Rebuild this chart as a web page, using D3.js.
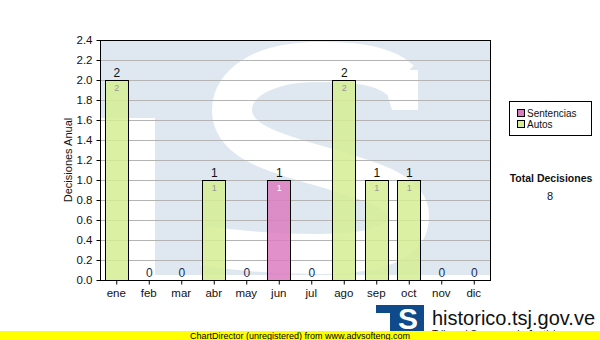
<!DOCTYPE html>
<html>
<head>
<meta charset="utf-8">
<script src="https://cdn.jsdelivr.net/npm/d3@7"></script>
<style>
    body { margin: 0; background: #fff; }
    svg text { font-family: "Liberation Sans", Arial, sans-serif; }
</style>
</head>
<body>
<svg id="chart" width="600" height="340"></svg>
<script>
// chart data
const months = ["ene", "feb", "mar", "abr", "may", "jun", "jul", "ago", "sep", "oct", "nov", "dic"];
const sentencias = [0, 0, 0, 0, 0, 1, 0, 0, 0, 0, 0, 0];
const autos = [2, 0, 0, 1, 0, 0, 0, 2, 1, 1, 0, 0];
const seriesNames = ["Sentencias", "Autos"];
const yTicks = [0, 0.2, 0.4, 0.6, 0.8, 1.0, 1.2, 1.4, 1.6, 1.8, 2.0, 2.2, 2.4];
const totalDecisiones = 8;

const colors = {Sentencias: "#dc7cc0", Autos: "#d6ed93"};

var svg = d3.select("#chart");
var plot = {left: 100, right: 490, top: 40, bottom: 280};

var x = d3.scaleBand()
    .domain(months)
    .range([plot.left, plot.right])
    .paddingInner(0.3)
    .paddingOuter(0.15);

var y = d3.scaleLinear()
    .domain([0, 2.4])
    .range([plot.bottom, plot.top]);

// background watermark (tsj logo)
svg.append("clipPath").attr("id", "plotclip")
    .append("rect")
        .attr("x", plot.left).attr("y", plot.top)
        .attr("width", plot.right - plot.left).attr("height", plot.bottom - plot.top);

var wm = svg.append("g").attr("clip-path", "url(#plotclip)");
wm.append("rect")
    .attr("x", plot.left).attr("y", plot.top)
    .attr("width", plot.right - plot.left).attr("height", 235)
    .attr("fill", "#dfe8f1");
wm.append("rect")
    .attr("x", plot.left).attr("y", 118)
    .attr("width", 55).attr("height", 170)
    .attr("fill", "#fff");
// the big white "S"
wm.append("path")
    .attr("d", "M400,80 C385,66 360,62 318,62 C262,62 232,84 232,110 C232,140 270,152 320,166 C372,181 409,192 409,216 C409,244 372,254 320,254 C270,254 232,250 204,246")
    .attr("fill", "none")
    .attr("stroke", "#fff")
    .attr("stroke-width", 40);
wm.append("path")
    .attr("d", "M380,70 L418,70 L418,110 L392,110 Z")
    .attr("fill", "#fff");

// grid lines
svg.append("g")
    .selectAll("line")
    .data(yTicks.slice(1))
    .enter()
    .append("line")
        .attr("x1", plot.left).attr("x2", plot.right)
        .attr("y1", d => y(d) + 0.5).attr("y2", d => y(d) + 0.5)
        .attr("stroke", "#b4b4b4")
        .attr("stroke-width", 1);

// stacked bars
var rows = months.map((m, i) => ({month: m, Sentencias: sentencias[i], Autos: autos[i]}));
var stacked = d3.stack().keys(seriesNames)(rows);

stacked.forEach(function(layer) {
    var name = layer.key;
    var g = svg.append("g");
    g.selectAll("rect")
        .data(layer.filter(d => d[1] - d[0] > 0))
        .enter()
        .append("rect")
            .attr("x", d => Math.round(x(d.data.month)) + 0.5)
            .attr("y", d => y(d[1]) + 0.5)
            .attr("width", Math.round(x.bandwidth()))
            .attr("height", d => y(d[0]) - y(d[1]))
            .attr("fill", colors[name])
            .attr("fill-opacity", 0.85)
            .attr("stroke", "#000")
            .attr("stroke-width", 1);
    // value inside bar
    g.selectAll("text")
        .data(layer.filter(d => d[1] - d[0] > 0))
        .enter()
        .append("text")
            .attr("x", d => x(d.data.month) + x.bandwidth() / 2 + 0.5)
            .attr("y", d => y(d[1]) + 11)
            .attr("text-anchor", "middle")
            .attr("font-size", "9px")
            .attr("fill", name === "Sentencias" ? "#fff" : "#999")
            .text(d => d[1] - d[0]);
});

// totals above bars
svg.append("g")
    .selectAll("text")
    .data(rows)
    .enter()
    .append("text")
        .attr("x", d => x(d.month) + x.bandwidth() / 2 + 0.5)
        .attr("y", d => y(d.Sentencias + d.Autos) - 3)
        .attr("text-anchor", "middle")
        .attr("font-size", "12px")
        .attr("fill", d => (d.Sentencias + d.Autos) === 0 ? "#1a2f55" : "#111")
        .text(d => d.Sentencias + d.Autos);

// plot border
svg.append("rect")
    .attr("x", plot.left + 0.5).attr("y", plot.top + 0.5)
    .attr("width", plot.right - plot.left).attr("height", plot.bottom - plot.top)
    .attr("fill", "none")
    .attr("stroke", "#000");

// axes
var yAxis = svg.append("g")
    .attr("transform", "translate(" + (plot.left + 0.5) + ",0)")
    .call(d3.axisLeft(y).tickValues(yTicks).tickFormat(d3.format(".1f")).tickSize(4).tickPadding(4));
var xAxis = svg.append("g")
    .attr("transform", "translate(0," + (plot.bottom + 0.5) + ")")
    .call(d3.axisBottom(x).tickSize(4).tickPadding(4));
[yAxis, xAxis].forEach(function(a) {
    a.select(".domain").remove();
    a.selectAll("line").attr("stroke", "#000");
    a.selectAll("text")
        .attr("font-family", "Liberation Sans, Arial, sans-serif")
        .attr("font-size", "11.5px")
        .attr("fill", "#111");
});
xAxis.selectAll(".tick line").attr("transform", "translate(0.5,0)");

svg.append("text")
    .attr("transform", "translate(72,160) rotate(-90)")
    .attr("text-anchor", "middle")
    .attr("font-size", "11px")
    .attr("fill", "#111")
    .text("Decisiones Anual");

// legend
var legend = svg.append("g");
legend.append("rect")
    .attr("x", 509.5).attr("y", 101.5)
    .attr("width", 82).attr("height", 34)
    .attr("fill", "#fff")
    .attr("stroke", "#000");
seriesNames.forEach(function(name, i) {
    legend.append("rect")
        .attr("x", 517.5).attr("y", 109.5 + i * 11)
        .attr("width", 7).attr("height", 7)
        .attr("fill", colors[name])
        .attr("stroke", "#000");
    legend.append("text")
        .attr("x", 527).attr("y", 117 + i * 11)
        .attr("font-family", "DejaVu Sans Condensed, DejaVu Sans, sans-serif")
        .attr("font-size", "10px")
        .attr("fill", "#111")
        .text(name);
});

svg.append("text")
    .attr("x", 551).attr("y", 182)
    .attr("text-anchor", "middle")
    .attr("font-family", "DejaVu Sans Condensed, DejaVu Sans, sans-serif")
    .attr("font-weight", "bold")
    .attr("font-size", "10.5px")
    .attr("fill", "#111")
    .text("Total Decisiones");
svg.append("text")
    .attr("x", 550).attr("y", 200)
    .attr("text-anchor", "middle")
    .attr("font-family", "DejaVu Sans Condensed, DejaVu Sans, sans-serif")
    .attr("font-size", "11px")
    .attr("fill", "#111")
    .text(totalDecisiones);

// site logo
var logo = svg.append("g");
logo.append("path")
    .attr("d", "M376,305 H424 V331 H390 V313 H376 Z")
    .attr("fill", "#0f4a8a");
logo.append("text")
    .attr("x", 408).attr("y", 329)
    .attr("text-anchor", "middle")
    .attr("font-family", "Liberation Serif, serif")
    .attr("font-weight", "bold")
    .attr("font-size", "30px")
    .attr("fill", "#fff")
    .text("S");
logo.append("text")
    .attr("x", 432).attr("y", 325)
    .attr("font-size", "20px")
    .attr("fill", "#111")
    .text("historico.tsj.gov.ve");
logo.append("text")
    .attr("x", 432).attr("y", 338)
    .attr("font-size", "10px")
    .attr("fill", "#111")
    .text("Tribunal Supremo de Justicia");

// unregistered banner
svg.append("rect")
    .attr("x", 0).attr("y", 331)
    .attr("width", 600).attr("height", 9)
    .attr("fill", "#ffff00");
svg.append("text")
    .attr("x", 190).attr("y", 339)
    .attr("font-size", "9px")
    .attr("fill", "#000")
    .text("ChartDirector (unregistered) from www.advsofteng.com");
</script>
</body>
</html>
